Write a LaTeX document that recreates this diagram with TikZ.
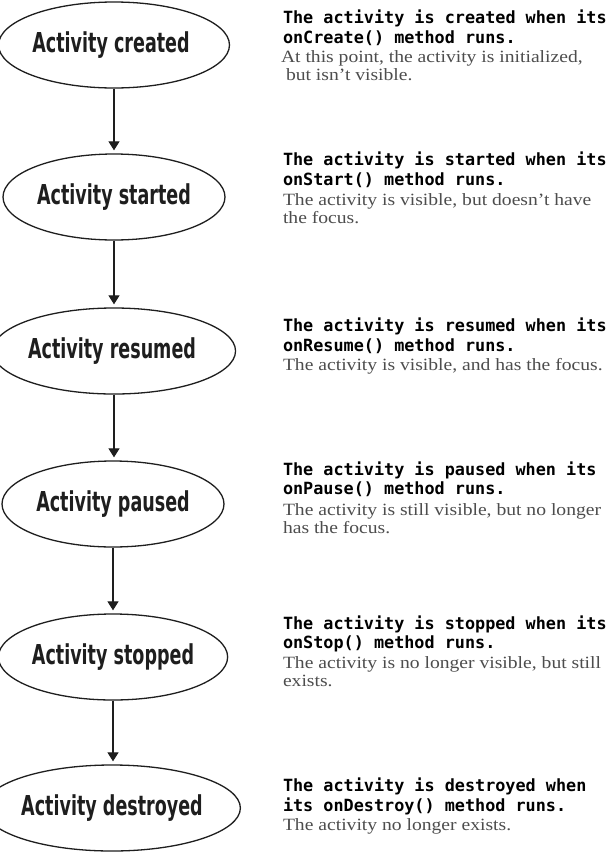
\documentclass[tikz,border=0pt]{standalone}
\usepackage{fontspec}
\usetikzlibrary{shapes.geometric,arrows.meta}
\newfontfamily\ellfont[FakeStretch=0.64]{DejaVu Sans}
\newfontfamily\monofont{DejaVu Sans Mono}
\newfontfamily\grayfont[FakeStretch=1.14]{Liberation Serif}
\definecolor{txtgray}{HTML}{4D4D4D}
\definecolor{inkblack}{HTML}{1E1E1E}
\newcommand\bline[1]{\hbox{\monofont\bfseries\fontsize{16.8}{20}\selectfont #1}}
\newcommand\gline[1]{\hbox{\grayfont\fontsize{17.2}{18.5}\selectfont\color{txtgray}#1}}
\tikzset{
  state/.style={draw=inkblack, line width=1.3pt, ellipse, minimum width=222pt, minimum height=86pt, inner sep=0pt,
    font=\ellfont\bfseries\fontsize{27.4}{30}\selectfont, text=inkblack},
  desc/.style={anchor=base west, inner sep=0pt, outer sep=0pt},
  flow/.style={draw=inkblack, line width=1.2pt, -{Triangle[length=9pt,width=11pt]}, shorten >=3pt}
}
\begin{document}
\begin{tikzpicture}[x=1pt,y=-1pt]
\useasboundingbox[fill=white] (0,0) rectangle (612,855);
\node[state] (e1) at (114,45) {Activity created\kern6pt};
\node[state] (e2) at (114,197) {Activity started};
\node[state] (e3) at (114,351) {Activity resumed\kern4pt};
\node[state] (e4) at (113,504) {Activity paused};
\node[state] (e5) at (113,657) {Activity stopped};
\node[state] (e6) at (112,808) {Activity destroyed};
\draw[flow] (e1.south) -- (e1.south |- e2.north);
\draw[flow] (e2.south) -- (e2.south |- e3.north);
\draw[flow] (e3.south) -- (e3.south |- e4.north);
\draw[flow] (e4.south) -- (e4.south |- e5.north);
\draw[flow] (e5.south) -- (e5.south |- e6.north);

\node[desc] (d1) at (281,23) {\vtop{\baselineskip=20pt
  \bline{\kern2pt The activity is created when its}
  \bline{\kern2pt onCreate() method runs.}
  \baselineskip=19pt
  \gline{At this point, the activity is initialized,}
  \baselineskip=18.5pt
  \gline{\kern5pt but isn’t visible.}}};
\node[desc] (d2) at (283,165) {\vtop{\baselineskip=20pt
  \bline{The activity is started when its}
  \bline{onStart() method runs.}
  \baselineskip=20pt
  \gline{The activity is visible, but doesn’t have}
  \baselineskip=18.5pt
  \gline{the focus.}}};
\node[desc] (d3) at (283,331) {\vtop{\baselineskip=20.5pt
  \bline{The activity is resumed when its}
  \bline{onResume() method runs.}
  \baselineskip=19pt
  \gline{The activity is visible, and has the focus.}}};
\node[desc] (d4) at (283,475) {\vtop{\baselineskip=19pt
  \bline{The activity is paused when its}
  \bline{onPause() method runs.}
  \baselineskip=21pt
  \gline{The activity is still visible, but no longer}
  \baselineskip=18.5pt
  \gline{has the focus.}}};
\node[desc] (d5) at (283,629) {\vtop{\baselineskip=19pt
  \bline{The activity is stopped when its}
  \bline{onStop() method runs.}
  \baselineskip=20pt
  \gline{The activity is no longer visible, but still}
  \baselineskip=18.5pt
  \gline{exists.}}};
\node[desc] (d6) at (283,791) {\vtop{\baselineskip=20.5pt
  \bline{The activity is destroyed when}
  \bline{its onDestroy() method runs.}
  \baselineskip=19pt
  \gline{The activity no longer exists.}}};
\end{tikzpicture}
\end{document}
